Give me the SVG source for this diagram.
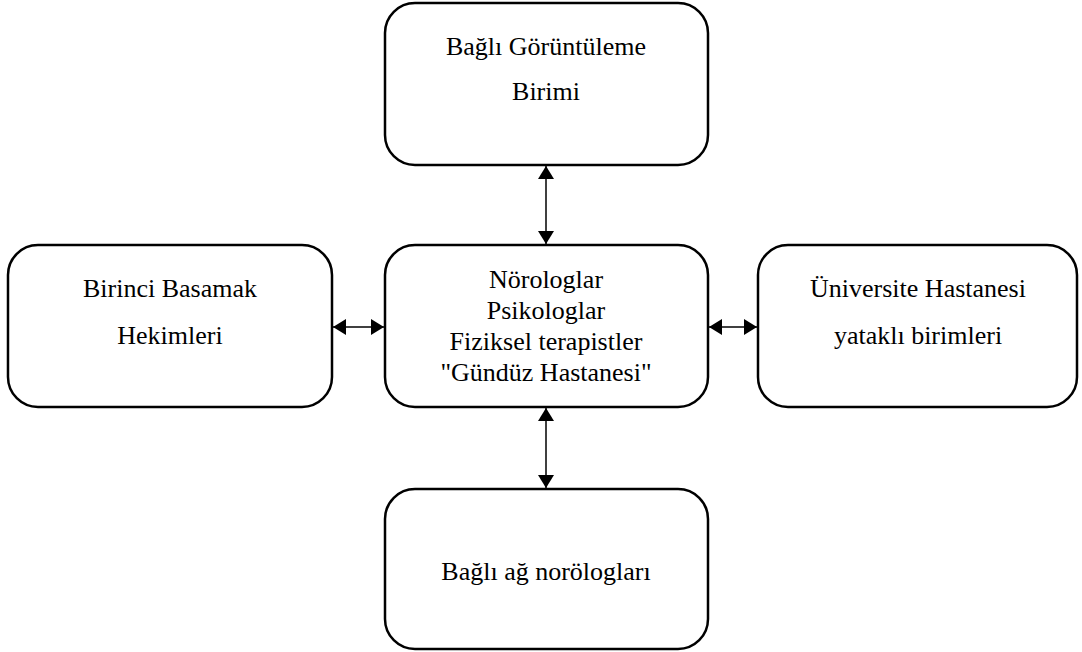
<svg xmlns="http://www.w3.org/2000/svg" width="1082" height="652" viewBox="0 0 1082 652">
  <defs>
    <style>
      .box { fill: #ffffff; stroke: #000000; stroke-width: 2.5; }
      .lbl { font-family: "Liberation Serif", "Times New Roman", serif; font-size: 26px; fill: #000000; text-anchor: middle; }
      .link { stroke: #000000; stroke-width: 1.5; fill: none; marker-start: url(#head); marker-end: url(#head); }
    </style>
    <marker id="head" viewBox="0 0 13 16" refX="13" refY="8" markerWidth="13" markerHeight="16" markerUnits="userSpaceOnUse" orient="auto-start-reverse">
      <path d="M0,0 L13,8 L0,16 Z" fill="#000000"/>
    </marker>
  </defs>
  <rect width="1082" height="652" fill="#ffffff"/>

  <!-- connectors -->
  <g id="connectors">
    <line class="link" x1="546" y1="166" x2="546" y2="244"/>
    <line class="link" x1="546" y1="408" x2="546" y2="488"/>
    <line class="link" x1="333" y1="327" x2="384" y2="327"/>
    <line class="link" x1="709" y1="327" x2="757" y2="327"/>
  </g>

  <g id="node-imaging">
    <rect class="box" x="385" y="3" width="323" height="162" rx="30"/>
    <text class="lbl" x="546" y="55">Bağlı Görüntüleme</text>
    <text class="lbl" x="546" y="100">Birimi</text>
  </g>

  <g id="node-center">
    <rect class="box" x="385" y="245" width="323" height="162" rx="30"/>
    <text class="lbl" x="546" y="288">Nörologlar</text>
    <text class="lbl" x="546" y="319">Psikologlar</text>
    <text class="lbl" x="546" y="350">Fiziksel terapistler</text>
    <text class="lbl" x="546" y="381">"Gündüz Hastanesi"</text>
  </g>

  <g id="node-primary">
    <rect class="box" x="8" y="245" width="324" height="162" rx="30"/>
    <text class="lbl" x="170" y="297">Birinci Basamak</text>
    <text class="lbl" x="170" y="344">Hekimleri</text>
  </g>

  <g id="node-university">
    <rect class="box" x="758" y="245" width="319" height="162" rx="30"/>
    <text class="lbl" x="918" y="297">Üniversite Hastanesi</text>
    <text class="lbl" x="918" y="344">yataklı birimleri</text>
  </g>

  <g id="node-network">
    <rect class="box" x="385" y="489" width="323" height="160" rx="30"/>
    <text class="lbl" x="546" y="580">Bağlı ağ norölogları</text>
  </g>
</svg>
